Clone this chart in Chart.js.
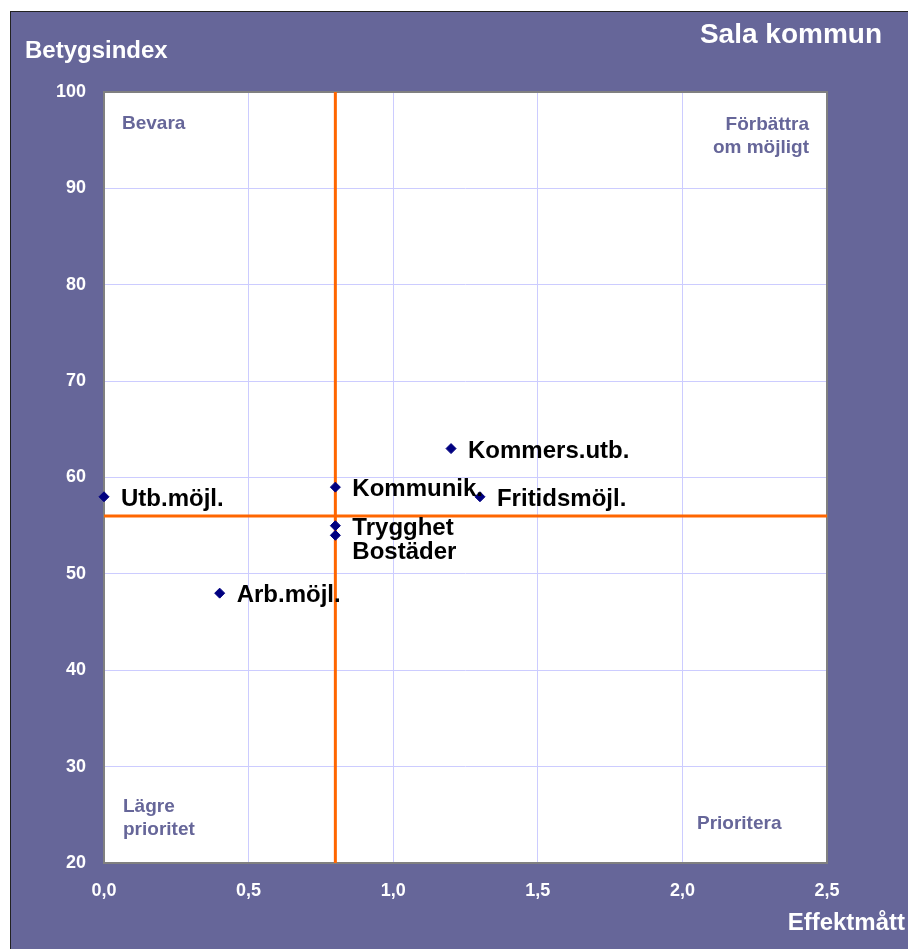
<!DOCTYPE html>
<html>
<head>
<meta charset="utf-8">
<script src="https://cdn.jsdelivr.net/npm/chart.js@4"></script>
<style>
  body { margin: 0; background: #ffffff; }
  canvas { display: block; }
</style>
</head>
<body>
<canvas id="chart" width="908" height="949"></canvas>
<script>
// Betygsindex vs effektmått, Sala kommun
const areas = ['Utb.möjl.', 'Arb.möjl.', 'Kommunik.', 'Trygghet', 'Bostäder', 'Kommers.utb.', 'Fritidsmöjl.'];
const effekt = [0.0, 0.4, 0.8, 0.8, 0.8, 1.2, 1.3];
const betyg = [58, 48, 59, 55, 54, 63, 58];

// reference lines (means)
const refEffekt = 0.8;
const refBetyg = 56;

const xMin = 0, xMax = 2.5, xStep = 0.5;
const yMin = 20, yMax = 100, yStep = 10;

const FONT = '"Liberation Sans", Arial, sans-serif';
const PURPLE = '#666699';

const backdrop = {
    id: 'backdrop',
    beforeDraw(chart) {
        const ctx = chart.ctx;
        const { left, top, right, bottom } = chart.chartArea;
        ctx.save();
        ctx.fillStyle = '#ffffff';
        ctx.fillRect(0, 0, chart.width, chart.height);
        ctx.fillStyle = PURPLE;
        ctx.fillRect(10, 11, chart.width - 10, chart.height - 11);
        ctx.fillStyle = '#222222';
        ctx.fillRect(10, 11, chart.width - 10, 1);
        ctx.fillRect(10, 11, 1, chart.height - 11);
        ctx.fillStyle = '#ffffff';
        ctx.fillRect(left, top, right - left, bottom - top);
        ctx.restore();
    },
    beforeDatasetsDraw(chart) {
        const ctx = chart.ctx;
        const { left, top, right, bottom } = chart.chartArea;
        ctx.save();
        ctx.strokeStyle = '#808080';
        ctx.lineWidth = 2;
        ctx.strokeRect(left, top, right - left, bottom - top);
        ctx.restore();
    }
};

const texts = {
    id: 'texts',
    afterDatasetsDraw(chart) {
        const ctx = chart.ctx;
        const { left, top, right, bottom } = chart.chartArea;
        ctx.save();
        ctx.textBaseline = 'alphabetic';

        // titles
        ctx.fillStyle = '#ffffff';
        ctx.font = 'bold 24px ' + FONT;
        ctx.textAlign = 'left';
        ctx.fillText('Betygsindex', 25, 58);
        ctx.textAlign = 'right';
        ctx.fillText('Effektmått', 905, 930);
        ctx.font = 'bold 28px ' + FONT;
        ctx.fillText('Sala kommun', 882, 43);

        // quadrant labels
        ctx.fillStyle = PURPLE;
        ctx.font = 'bold 19px ' + FONT;
        ctx.textAlign = 'left';
        ctx.fillText('Bevara', left + 18, top + 37);
        ctx.fillText('Lägre', left + 19, bottom - 51);
        ctx.fillText('prioritet', left + 19, bottom - 28);
        ctx.fillText('Prioritera', right - 130, bottom - 34);
        ctx.textAlign = 'right';
        ctx.fillText('Förbättra', right - 18, top + 38);
        ctx.fillText('om möjligt', right - 18, top + 61);

        // point labels, pushed down when they collide
        const meta = chart.getDatasetMeta(0);
        ctx.fillStyle = '#000000';
        ctx.font = 'bold 24px ' + FONT;
        ctx.textAlign = 'left';
        const placed = [];
        meta.data.forEach((pt, i) => {
            const x = pt.x + 17;
            let y = pt.y + 9;
            const w = ctx.measureText(areas[i]).width;
            let moved = true;
            while (moved) {
                moved = false;
                for (const p of placed) {
                    if (x < p.x + p.w && p.x < x + w && Math.abs(y - p.y) < 22) {
                        y = p.y + 24;
                        moved = true;
                    }
                }
            }
            placed.push({ x, y, w });
            ctx.fillText(areas[i], x, y);
        });
        ctx.restore();
    }
};

new Chart(document.getElementById('chart'), {
    type: 'scatter',
    data: {
        datasets: [
            {
                label: 'Områden',
                data: effekt.map((v, i) => ({ x: v, y: betyg[i] })),
                backgroundColor: '#000080',
                borderColor: '#000080',
                borderWidth: 1,
                pointStyle: 'rectRot',
                pointRadius: 5,
                pointHoverRadius: 5,
                clip: false
            },
            {
                label: 'Medel effekt',
                data: [{ x: refEffekt, y: yMin }, { x: refEffekt, y: yMax }],
                showLine: true,
                borderColor: '#ff6600',
                borderWidth: 3,
                pointRadius: 0
            },
            {
                label: 'Medel betyg',
                data: [{ x: xMin, y: refBetyg }, { x: xMax, y: refBetyg }],
                showLine: true,
                borderColor: '#ff6600',
                borderWidth: 3,
                pointRadius: 0
            }
        ]
    },
    options: {
        responsive: false,
        animation: false,
        events: [],
        layout: { padding: { left: 0, top: 92, right: 81, bottom: 0 } },
        plugins: {
            legend: { display: false },
            tooltip: { enabled: false }
        },
        scales: {
            x: {
                type: 'linear',
                min: xMin,
                max: xMax,
                afterFit(scale) { scale.height = 86; },
                border: { display: false },
                grid: { color: '#ccccff', lineWidth: 1, drawTicks: false },
                ticks: {
                    stepSize: xStep,
                    padding: 17,
                    color: '#ffffff',
                    font: { family: FONT, size: 18, weight: 'bold' },
                    callback: v => v.toFixed(1).replace('.', ',')
                }
            },
            y: {
                type: 'linear',
                min: yMin,
                max: yMax,
                afterFit(scale) { scale.width = 104; },
                border: { display: false },
                grid: { color: '#ccccff', lineWidth: 1, drawTicks: false },
                ticks: {
                    stepSize: yStep,
                    padding: 18,
                    color: '#ffffff',
                    font: { family: FONT, size: 18, weight: 'bold' }
                }
            }
        }
    },
    plugins: [backdrop, texts]
});
</script>
</body>
</html>
